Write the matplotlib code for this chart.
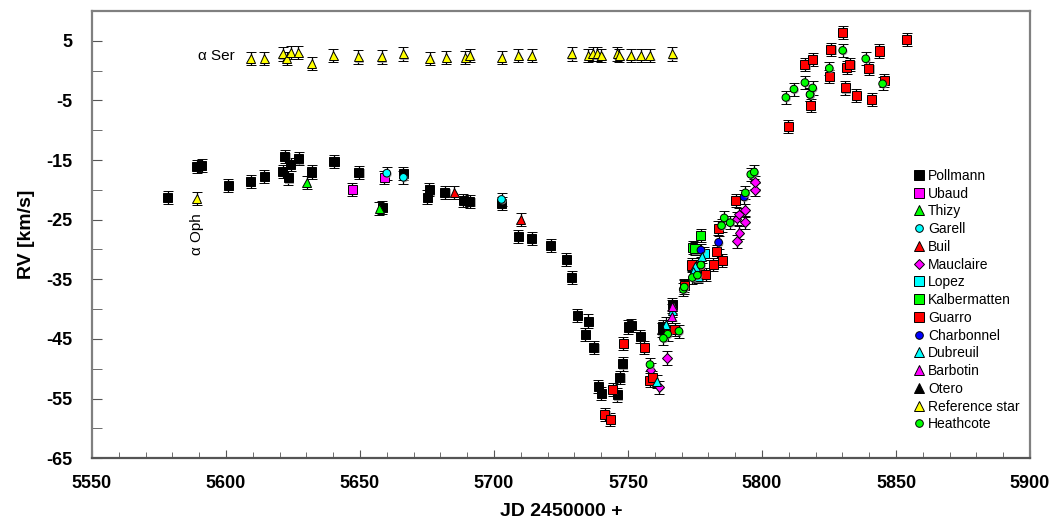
import matplotlib
matplotlib.use("Agg")
import matplotlib.pyplot as plt
import matplotlib.patheffects as pe
from matplotlib.ticker import MultipleLocator

# --- dane (JD - 2450000, RV w km/s) ---
pollmann_jd = [5578.2, 5589, 5591, 5600.9, 5609.2, 5614.2, 5621.1, 5622, 5623.2, 5624.1, 5627.1,
               5632, 5640.3, 5649.6, 5658.3, 5666.1, 5675.1, 5675.8, 5681.7, 5688.5, 5691, 5702.8,
               5709.1, 5714, 5721.1, 5726.9, 5729, 5731, 5734, 5735.2, 5737.3, 5738.9, 5740.1,
               5746, 5747, 5748, 5750.1, 5751.3, 5754.5, 5763, 5766.6]
pollmann_rv = [-21.3, -16.1, -15.9, -19.2, -18.6, -17.7, -16.9, -14.4, -18.0, -15.7, -14.8,
               -17.0, -15.2, -17.1, -23.0, -17.3, -21.2, -20.0, -20.5, -21.8, -22.0, -22.3,
               -27.8, -28.2, -29.3, -31.7, -34.7, -41.1, -44.2, -42.0, -46.4, -53.0, -54.1,
               -54.4, -51.4, -49.2, -43.0, -42.8, -44.6, -43.0, -39.3]

ubaud_jd = [5647.1, 5659]
ubaud_rv = [-19.9, -17.9]

thizy_jd = [5630.1, 5657.1]
thizy_rv = [-18.7, -23.1]

garell_jd = [5660, 5666.2, 5702.8]
garell_rv = [-17.2, -17.9, -21.6]

buil_jd = [5685.1, 5709.9]
buil_rv = [-20.4, -25.0]

mauclaire_jd = [5758.4, 5761.7, 5764.6, 5790.7, 5791.5, 5793.7, 5790.5, 5791.4, 5793.7, 5797.4, 5797.4]
mauclaire_rv = [-50.2, -53.1, -48.2, -28.6, -27.2, -25.4, -24.8, -24.1, -23.4, -20.0, -18.7]

lopez_jd = [5778.5]
lopez_rv = [-30.7]

kalbermatten_jd = [5777.1, 5774.1, 5775]
kalbermatten_rv = [-27.7, -29.7, -29.9]

guarro_jd = [5748.2, 5756, 5744.3, 5741.4, 5743.3, 5758.2, 5759.1, 5765, 5767.5, 5770.9, 5773.7,
             5776.6, 5779, 5781.8, 5785.2, 5783.1, 5783.7, 5790.2, 5809.8, 5818.1, 5816, 5818.9,
             5825.1, 5825.7, 5830.1, 5831.6, 5832.8, 5831, 5835.1, 5839.9, 5840.9, 5843.7,
             5845.6, 5854]
guarro_rv = [-45.7, -46.4, -53.5, -57.7, -58.5, -51.9, -51.5, -43.4, -43.4, -36.0, -32.6,
             -32.9, -34.2, -32.5, -31.8, -30.3, -26.4, -21.8, -9.4, -5.9, 1.0, 1.9,
             -1.0, 3.6, 6.4, 0.5, 1.0, -2.9, -4.2, 0.4, -4.9, 3.3,
             -1.7, 5.3]

charbonnel_jd = [5777.2, 5783.8, 5793.3, 5818]
charbonnel_rv = [-30.1, -28.8, -21.2, -4.0]

dubreuil_jd = [5760.7, 5764.1, 5766.6, 5777.5, 5775, 5774.4, 5776.2]
dubreuil_rv = [-52.1, -42.5, -40.2, -31.1, -32.9, -33.7, -34.6]

barbotin_jd = [5766.6, 5766.4]
barbotin_rv = [-39.5, -41.2]

otero_jd = [5762.5]
otero_rv = [-43.5]

ref_jd = [5589, 5609.2, 5614.2, 5621.1, 5622.6, 5624.2, 5627, 5632, 5640, 5649.4, 5658.1,
          5666.2, 5676.1, 5682.1, 5689.2, 5691, 5702.8, 5709.1, 5714, 5729, 5735.2, 5736.8,
          5738.5, 5740.1, 5746, 5746.7, 5751.1, 5754.7, 5758.2, 5766.5]
ref_rv = [-21.5, 2.0, 2.0, 2.8, 2.1, 3.0, 3.0, 1.2, 2.5, 2.3, 2.3,
          2.8, 2.0, 2.2, 2.2, 2.5, 2.2, 2.5, 2.5, 2.8, 2.5, 2.8,
          2.8, 2.5, 2.8, 2.5, 2.5, 2.5, 2.5, 2.8]

heathcote_jd = [5758.2, 5764.8, 5763.2, 5769, 5770.6, 5771.0, 5774, 5775.9, 5777.2, 5784.9,
                5785.9, 5788.1, 5793.8, 5795.8, 5797.1, 5808.9, 5811.9, 5816, 5817.9, 5818.9,
                5825.1, 5830.1, 5838.7, 5845]
heathcote_rv = [-49.3, -44.2, -44.9, -43.7, -36.7, -36.3, -34.7, -34.3, -32.6, -26.0,
                -24.7, -25.5, -20.5, -17.4, -17.0, -4.5, -3.1, -2.0, -4.0, -2.9,
                0.4, 3.4, 2.0, -2.2]

series = [
    ("Pollmann", pollmann_jd, pollmann_rv, "s", "#000000"),
    ("Ubaud", ubaud_jd, ubaud_rv, "s", "#ff00ff"),
    ("Thizy", thizy_jd, thizy_rv, "^", "#00ff00"),
    ("Garell", garell_jd, garell_rv, "o", "#00ffff"),
    ("Buil", buil_jd, buil_rv, "^", "#ff0000"),
    ("Mauclaire", mauclaire_jd, mauclaire_rv, "D", "#ff00ff"),
    ("Lopez", lopez_jd, lopez_rv, "s", "#00ffff"),
    ("Kalbermatten", kalbermatten_jd, kalbermatten_rv, "s", "#00ff00"),
    ("Guarro", guarro_jd, guarro_rv, "s", "#ff0000"),
    ("Charbonnel", charbonnel_jd, charbonnel_rv, "o", "#0000ff"),
    ("Dubreuil", dubreuil_jd, dubreuil_rv, "^", "#00ffff"),
    ("Barbotin", barbotin_jd, barbotin_rv, "^", "#ff00ff"),
    ("Otero", otero_jd, otero_rv, "^", "#000000"),
    ("Reference star", ref_jd, ref_rv, "^", "#ffff00"),
    ("Heathcote", heathcote_jd, heathcote_rv, "o", "#00ff00"),
]
err = 1.1

bold_font = ['Liberation Sans Narrow', 'Liberation Sans', 'DejaVu Sans']
plt.rcParams['font.family'] = ['Liberation Sans', 'DejaVu Sans']
plt.rcParams['axes.unicode_minus'] = False

fig = plt.figure(figsize=(10.61, 5.26), dpi=100)
ax = fig.add_axes([0.0867, 0.129, 0.8841, 0.850])

shadow = [pe.SimplePatchShadow(offset=(0.8, -0.8), shadow_rgbFace='0.6', alpha=0.8), pe.Normal()]

handles = []
for name, jd, rv, mk, col in series:
    ms = 6.5 if mk in ("s", "^") else 5.5
    if mk == "D":
        ms = 4.8
    eb = ax.errorbar(jd, rv, yerr=err, fmt=mk, ms=ms, mfc=col, mec="black", mew=0.7,
                     ecolor="black", elinewidth=0.9, capsize=3.5, capthick=0.9, zorder=3)
    eb[0].set_path_effects(shadow)
    h, = ax.plot([], [], mk, ms=ms, mfc=col, mec="black", mew=0.7, label=name)
    handles.append(h)

ax.set_xlim(5550, 5900)
ax.set_ylim(-65, 10)
ax.xaxis.set_major_locator(MultipleLocator(50))
ax.xaxis.set_minor_locator(MultipleLocator(10))
ax.set_yticks(range(5, -66, -10))
ax.yaxis.set_minor_locator(MultipleLocator(5))
ax.tick_params(axis="both", which="both", direction="in", color="#555555")
ax.tick_params(axis="y", which="major", length=7, pad=14)
ax.tick_params(axis="y", which="minor", length=7)
ax.tick_params(axis="x", which="major", length=6, pad=12)
ax.tick_params(axis="x", which="minor", length=4)
ax.tick_params(top=False, right=False, which="both")
for lab in ax.get_xticklabels() + ax.get_yticklabels():
    lab.set_fontfamily(bold_font)
    lab.set_fontweight("bold")
    lab.set_fontsize(13)
for s in ax.spines.values():
    s.set_color("#808080")
    s.set_linewidth(1.6)
ax.spines["bottom"].set_color("#555555")

ax.set_xlabel("JD 2450000 +", family=bold_font, fontweight="bold", fontsize=14, labelpad=8)
ax.set_ylabel("RV [km/s]", family=bold_font, fontweight="bold", fontsize=14, labelpad=8)

ax.text(5596.5, 2.4, "α Ser", fontsize=11, ha="center", va="center")
ax.text(5589, -27.5, "α Oph", fontsize=11, ha="center", va="center", rotation=90)

fig.legend(handles=handles, loc="upper left", bbox_to_anchor=(0.8615, 0.679), frameon=False,
           fontsize=10, handlelength=0.7, handletextpad=0.3, labelspacing=0.27,
           borderaxespad=0, borderpad=0)

fig.savefig("out.png", dpi=100)
